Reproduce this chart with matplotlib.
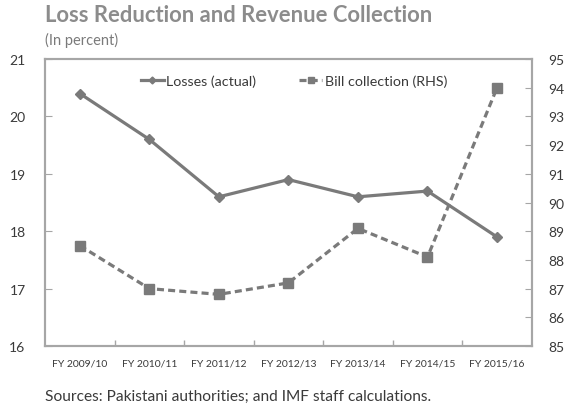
import matplotlib.pyplot as plt
import numpy as np

# Datos
anios = ['FY 2009/10', 'FY 2010/11', 'FY 2011/12', 'FY 2012/13',
         'FY 2013/14', 'FY 2014/15', 'FY 2015/16']
perdidas = [20.4, 19.6, 18.6, 18.9, 18.6, 18.7, 17.9]
cobranza = [88.5, 87.0, 86.8, 87.2, 89.1, 88.1, 94.0]

plt.rcParams['font.family'] = ['Lato', 'DejaVu Sans']

gris_linea = '#7a7a7a'
gris_borde = '#a6a6a6'
gris_texto = '#3a3a3a'

fig = plt.figure(figsize=(5.7, 4.06), dpi=100)
ax = fig.add_axes([0.079, 0.1453, 0.854, 0.7067])
ax2 = ax.twinx()

x = np.arange(len(anios))
l1, = ax.plot(x, perdidas, color=gris_linea, lw=2.3, marker='D', ms=5,
              label='Losses (actual)', zorder=3)
l2, = ax2.plot(x, cobranza, color=gris_linea, lw=2.3, ls=(0, (2.2, 1.3)),
               marker='s', ms=7, label='Bill collection (RHS)', zorder=3)

ax.set_xlim(-0.5, len(anios) - 0.5)
ax.set_ylim(16, 21)
ax2.set_ylim(85, 95)
ax.set_yticks(range(16, 22))
ax2.set_yticks(range(85, 96))

# Marcas del eje x entre categorias
ax.set_xticks(x)
ax.set_xticklabels(anios, fontsize=7.5, color=gris_texto)
ax.set_xticks(np.arange(0.5, len(anios) - 1, 1), minor=True)
ax.tick_params(axis='x', which='major', length=0, pad=9)
ax.tick_params(axis='x', which='minor', direction='in', length=4,
               color=gris_borde, width=1)

ax.tick_params(axis='y', direction='in', length=5, color=gris_borde,
               labelsize=10, labelcolor=gris_texto, pad=14)
ax2.tick_params(axis='y', direction='in', length=5, color=gris_borde,
                labelsize=10, labelcolor=gris_texto, pad=12)

for a in (ax, ax2):
    for s in a.spines.values():
        s.set_color(gris_borde)
        s.set_linewidth(1.5)

leg = ax.legend(handles=[l1, l2], loc='upper left', bbox_to_anchor=(0.17, 0.99),
                ncol=2, frameon=False, fontsize=10.3, handlelength=1.6,
                handletextpad=0.2, columnspacing=3.0, markerscale=0.7)
for t in leg.get_texts():
    t.set_color(gris_texto)

fig.text(0.079, 0.962, 'Loss Reduction and Revenue Collection', fontsize=15.8,
         fontweight='bold', color='#8c8c8c', va='center')
fig.text(0.079, 0.9, '(In percent)', fontsize=10.5, color='#7a7a7a', va='center')
fig.text(0.079, 0.022, 'Sources: Pakistani authorities; and IMF staff calculations.',
         fontsize=11.2, color=gris_texto, va='center')

fig.savefig('out.png', dpi=100)
